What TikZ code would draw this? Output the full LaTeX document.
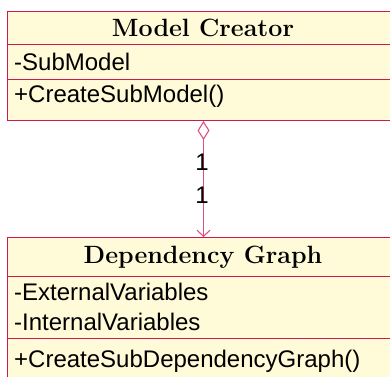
\documentclass[tikz,border=0pt]{standalone}
\usepackage{fontspec}
\setsansfont{Liberation Sans}
\usetikzlibrary{arrows.meta}
\definecolor{umlborder}{RGB}{205,25,80}
\definecolor{umlline}{RGB}{220,80,130}
\definecolor{umlfill}{RGB}{255,250,215}
\tikzset{
  classbox/.style={draw=umlborder, fill=umlfill, line width=1pt, anchor=north west,
    inner sep=0pt, rectangle},
  divider/.style={draw=umlborder, line width=1pt},
  ctitle/.style={font=\fontsize{25}{29}\selectfont\bfseries, anchor=base, inner sep=0pt},
  member/.style={font=\fontsize{24}{28}\selectfont\sffamily, anchor=base west, inner sep=0pt},
  mult/.style={font=\fontsize{24}{28}\selectfont\sffamily, inner sep=0pt, anchor=center},
  assoc/.style={draw=umlline, line width=1.1pt,
    {Diamond[open, length=19pt, width=12pt, line width=1.1pt]}-{Straight Barb[length=6pt, width=13pt, line width=1.1pt]}}
}
\begin{document}
\begin{tikzpicture}[x=1pt, y=-1pt]
  \useasboundingbox (0,0) rectangle (390,376);
  % class: Model Creator
  \node[classbox, minimum width=392pt, minimum height=109pt] (mc) at (7,11) {};
  \draw[divider] (7,44) -- (399,44);
  \draw[divider] (7,79) -- (399,79);
  \node[ctitle] (mcname) at (203,36) {Model Creator};
  \node[member] (mcattr) at (14,70) {-SubModel};
  \node[member] (mcop) at (14,102) {+CreateSubModel()};
  % class: Dependency Graph
  \node[classbox, minimum width=392pt, minimum height=150pt] (dg) at (7,237) {};
  \draw[divider] (7,276) -- (399,276);
  \draw[divider] (7,338) -- (399,338);
  \node[ctitle] (dgname) at (203,263) {Dependency Graph};
  \node[member] (dgattra) at (14,300) {-ExternalVariables};
  \node[member] (dgattrb) at (14,330) {-InternalVariables};
  \node[member] (dgop) at (14,367) {+CreateSubDependencyGraph()};
  % aggregation
  \draw[assoc] (mc.south) -- (dg.north);
  \node[mult] (m1) at (202,162) {1};
  \node[mult] (m2) at (202,195) {1};
\end{tikzpicture}
\end{document}
